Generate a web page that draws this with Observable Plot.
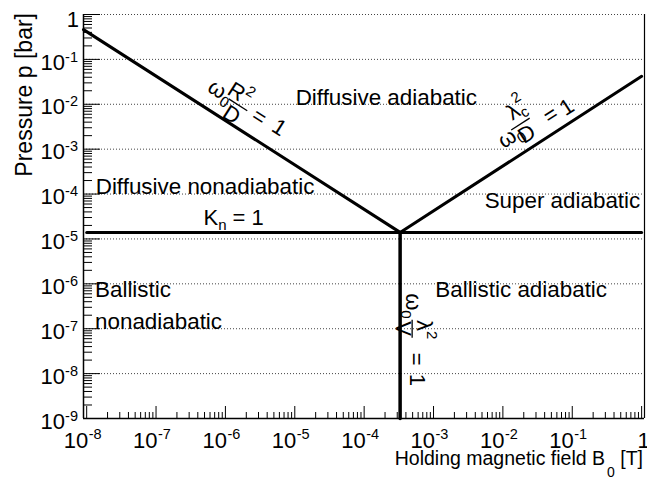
<!DOCTYPE html>
<html><head><meta charset="utf-8">
<script src="https://cdn.jsdelivr.net/npm/d3@7"></script>
<script src="https://cdn.jsdelivr.net/npm/@observablehq/plot@0.6"></script>
<style>body{margin:0;background:#fff}svg{display:block}</style>
</head><body><div id="chart"></div>
<script>
// ---- axes ----
const xDomain = [0.9e-8, 1.1];
const yDomain = [1e-9, 1];
const xDecades = [-8, -7, -6, -5, -4, -3, -2, -1, 0];
const yDecades = [-9, -8, -7, -6, -5, -4, -3, -2, -1, 0];
const minorMult = [2, 3, 4, 5, 6, 7, 8, 9];
const xTitle = "Holding magnetic field B";
const xTitleSub = "0";
const xTitleEnd = " [T]";
const yTitle = "Pressure p [bar]";

// ---- boundary lines (B [T], p [bar]) ----
const diffLineB = [0.9e-8, 3.3e-4];
const diffLineP = [0.46, 1.4e-5];
const superLineB = [3.3e-4, 1];
const superLineP = [1.4e-5, 0.042];
const knLineB = [1e-8, 1];
const knLineP = [1.4e-5, 1.4e-5];
const ballLineB = [3.3e-4, 3.3e-4];
const ballLineP = [1.4e-5, 1e-9];

// ---- region labels ----
const regionText = ["Diffusive adiabatic", "Diffusive nonadiabatic", "Super adiabatic", "Ballistic", "nonadiabatic", "Ballistic adiabatic"];
const regionB = [1.03e-5, 1.35e-8, 0.955, 1.32e-8, 1.32e-8, 1.06e-3];
const regionP = [9.86e-3, 1.02e-4, 4.99e-5, 5.17e-7, 1.0e-7, 4.99e-7];
const regionAnchor = ["start", "start", "end", "start", "start", "start"];

// ---- K_n label ----
const knB = 4.91e-7, knP = 1.98e-5;

// ---- formula labels ----
const fNum = ["R", "λ", "λ"];
const fNumSub = ["", "c", ""];
const fNumSup = ["2", "2", "2"];
const fDen = ["D", "D", "V"];
const fB = [1.42e-6, 0.0182, 5.0e-4];
const fP = [0.0103, 3.53e-3, 9.75e-8];

// layout of each formula in its own rotated frame (px)
const fLayout = [
  {wX: -6, wY: 5, nX: -1, nY: -3, dX: 3, dY: 19, eqX: 21, eqY: 6, oneX: 44, oneY: 4},
  {wX: -2, wY: 12, nX: 5, nY: -7, dX: 0, dY: 19, eqX: 24, eqY: 16, oneX: 42, oneY: 18},
  {wX: -10, wY: 6, nX: 1, nY: -5, dX: 0, dY: 16, eqX: 24, eqY: 3, oneX: 45, oneY: 2.5}
];

const W = 647, H = 481, mL = 83, mR = 3, mT = 14, mB = 63;
const frameW = W - mL - mR, frameH = H - mT - mB;

const gridP = yDecades.slice(1).map(d => 10 ** d);
const majorX = xDecades.map(d => 10 ** d);
const minorX = xDecades.slice(0, -1).flatMap(d => minorMult.map(m => m * 10 ** d));
const majorY = yDecades.map(d => 10 ** d);
const minorY = yDecades.slice(0, -1).flatMap(d => minorMult.map(m => m * 10 ** d));

const toPts = (bs, ps) => bs.map((b, i) => ({b, p: ps[i]}));
const regions = regionText.map((t, i) => ({t, b: regionB[i], p: regionP[i], a: regionAnchor[i]}));

const lineStyle = {x: "b", y: "p", stroke: "#000", strokeWidth: 3};
const textStyle = {x: "b", y: "p", text: "t", lineAnchor: "bottom", fontSize: 22.4, fill: "#000"};

const plot = Plot.plot({
  width: W, height: H,
  marginLeft: mL, marginRight: mR, marginTop: mT, marginBottom: mB,
  x: {type: "log", domain: xDomain, axis: null},
  y: {type: "log", domain: yDomain, axis: null},
  style: {fontFamily: "'Liberation Sans', Arial, Helvetica, sans-serif", background: "#fff", color: "#000"},
  marks: [
    Plot.ruleY(gridP, {stroke: "#444", strokeDasharray: "1,2", strokeWidth: 1}),
    Plot.ruleX(majorX, {insetTop: frameH - 12, stroke: "#000", strokeWidth: 1}),
    Plot.ruleX(minorX, {insetTop: frameH - 6, stroke: "#000", strokeWidth: 1}),
    Plot.ruleY(majorY, {insetRight: frameW - 17, stroke: "#000", strokeWidth: 1}),
    Plot.ruleY(minorY, {insetRight: frameW - 9, stroke: "#000", strokeWidth: 1}),
    Plot.ruleX([xDomain[0]], {stroke: "#000", strokeWidth: 1.5}),
    Plot.ruleX([xDomain[1]], {stroke: "#000", strokeWidth: 1.2}),
    Plot.ruleY([yDomain[0]], {stroke: "#000", strokeWidth: 1.5}),
    Plot.line(toPts(diffLineB, diffLineP), lineStyle),
    Plot.line(toPts(superLineB, superLineP), lineStyle),
    Plot.line(toPts(knLineB, knLineP), lineStyle),
    Plot.line(toPts(ballLineB, ballLineP), {...lineStyle, strokeWidth: 3.5}),
    Plot.text(regions.filter(r => r.a === "start"), {...textStyle, textAnchor: "start"}),
    Plot.text(regions.filter(r => r.a === "end"), {...textStyle, textAnchor: "end"})
  ]
});
document.getElementById("chart").appendChild(plot);

const sx = plot.scale("x"), sy = plot.scale("y");
const X = v => sx.apply(v), Y = v => sy.apply(v);
const svg = d3.select(plot);
const frameLeft = X(xDomain[0]), frameBottom = Y(yDomain[0]);

// y tick labels
yDecades.forEach(d => {
  const ty = Y(10 ** d);
  if (d === 0) {
    svg.append("text").attr("x", frameLeft - 4).attr("y", ty + 12.7)
      .attr("text-anchor", "end").attr("font-size", 22).attr("fill", "#000").text("1");
  } else {
    const t = svg.append("text").attr("x", frameLeft - 5).attr("y", ty + 10.7)
      .attr("text-anchor", "end").attr("font-size", 22).attr("fill", "#000");
    t.append("tspan").text("10");
    t.append("tspan").attr("font-size", 14.5).attr("dy", -8).text("-" + (-d));
  }
});
// x tick labels
xDecades.forEach(d => {
  const tx = X(10 ** d), base = frameBottom + 29.5;
  if (d === 0) {
    svg.append("text").attr("x", tx + 2.5).attr("y", base)
      .attr("text-anchor", "middle").attr("font-size", 22).attr("fill", "#000").text("1");
  } else {
    svg.append("text").attr("x", tx + 2).attr("y", base)
      .attr("text-anchor", "end").attr("font-size", 22).attr("fill", "#000").text("10");
    svg.append("text").attr("x", tx + 2.5).attr("y", base - 8.5)
      .attr("text-anchor", "start").attr("font-size", 14.5).attr("fill", "#000").text("-" + (-d));
  }
});
// axis titles
svg.append("text").attr("transform", `translate(32,${Y(yDomain[1]) - 1}) rotate(-90)`)
  .attr("text-anchor", "end").attr("font-size", 23).attr("fill", "#000").text(yTitle);
{
  const t = svg.append("text").attr("x", X(xDomain[1]) - 1).attr("y", frameBottom + 46.5)
    .attr("text-anchor", "end").attr("font-size", 19.5).attr("fill", "#000");
  t.append("tspan").text(xTitle);
  t.append("tspan").attr("font-size", 14).attr("dx", 2).attr("dy", 12).text(xTitleSub);
  t.append("tspan").attr("dy", -12).text(xTitleEnd);
}
// K_n = 1
{
  const t = svg.append("text").attr("x", X(knB)).attr("y", Y(knP))
    .attr("text-anchor", "start").attr("font-size", 22).attr("fill", "#000");
  t.append("tspan").text("K");
  t.append("tspan").attr("font-size", 15).attr("dy", 5).text("n");
  t.append("tspan").attr("dy", -5).text(" = 1");
}
// formulas
const angleOf = (bs, ps) => Math.atan2(Y(ps[1]) - Y(ps[0]), X(bs[1]) - X(bs[0])) * 180 / Math.PI;
const fAngle = [angleOf(diffLineB, diffLineP), angleOf(superLineB, superLineP), angleOf(ballLineB, ballLineP)];
fNum.forEach((num, i) => {
  const L = fLayout[i];
  const g = svg.append("g")
    .attr("transform", `translate(${X(fB[i])},${Y(fP[i])}) rotate(${fAngle[i]})`)
    .attr("font-size", 22).attr("fill", "#000").attr("text-anchor", "start");
  const half = i === 2 ? 9 : 11;
  g.append("line").attr("x1", L.dX - half).attr("x2", L.dX + half).attr("y1", 0).attr("y2", 0)
    .attr("stroke", "#000").attr("stroke-width", 1.3);
  const w = g.append("text").attr("x", L.wX).attr("y", L.wY).attr("text-anchor", "end");
  w.append("tspan").text("ω");
  w.append("tspan").attr("font-size", 15).attr("dy", 5).text("0");
  const n = g.append("text").attr("x", L.nX).attr("y", L.nY).attr("text-anchor", "middle");
  n.append("tspan").text(num);
  if (fNumSub[i]) {
    n.append("tspan").attr("font-size", 15).attr("dy", 4).text(fNumSub[i]);
    n.append("tspan").attr("font-size", 15).attr("dx", -7).attr("dy", -17).text(fNumSup[i]);
  } else {
    n.append("tspan").attr("font-size", 15).attr("dy", -10).text(fNumSup[i]);
  }
  g.append("text").attr("x", L.dX).attr("y", L.dY).attr("text-anchor", "middle").text(fDen[i]);
  g.append("text").attr("x", L.eqX).attr("y", L.eqY).attr("text-anchor", "start").text("=");
  g.append("text").attr("x", L.oneX).attr("y", L.oneY).attr("text-anchor", "start").text("1");
});
</script>
</body></html>
